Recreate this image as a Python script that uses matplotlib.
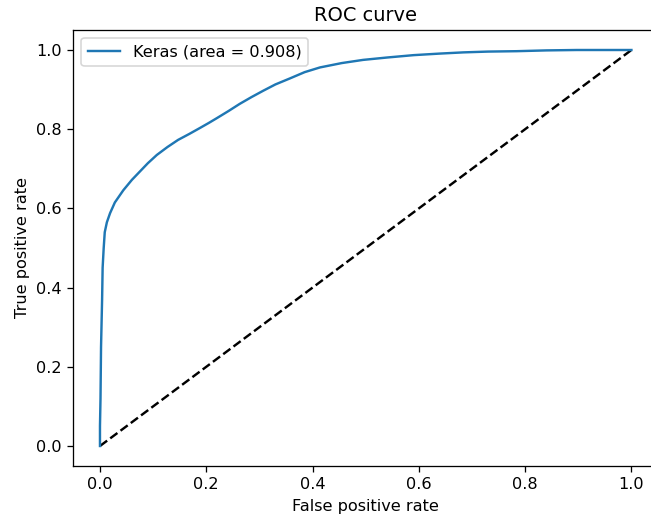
import matplotlib
matplotlib.use("Agg")
import matplotlib.pyplot as plt

fpr = [0.0, 0.0, 0.001, 0.002, 0.004, 0.005, 0.007, 0.009, 0.013, 0.019, 0.028, 0.044,
       0.06, 0.075, 0.09, 0.107, 0.127, 0.147, 0.168, 0.188, 0.205, 0.22, 0.242,
       0.263, 0.285, 0.307, 0.33, 0.357, 0.385, 0.414, 0.455, 0.495, 0.54, 0.59,
       0.64, 0.684, 0.73, 0.784, 0.84, 0.897, 0.95, 1.0]
tpr = [0.0, 0.05, 0.12, 0.25, 0.37, 0.45, 0.5, 0.54, 0.565, 0.588, 0.615, 0.646,
       0.672, 0.693, 0.714, 0.735, 0.755, 0.773, 0.788, 0.803, 0.816, 0.828, 0.846,
       0.864, 0.881, 0.897, 0.913, 0.928, 0.944, 0.956, 0.967, 0.975, 0.981, 0.987,
       0.991, 0.994, 0.996, 0.997, 0.999, 1.0, 1.0, 1.0]
auc_value = 0.908
diag_x = [0, 1]
diag_y = [0, 1]

DPI = 116
fig = plt.figure(figsize=(651 / DPI, 521 / DPI), dpi=DPI)
ax = fig.add_axes([73.4 / 651, (521 - 465.8) / 521, (658 - 73.4) / 651, (465.8 - 30.2) / 521])
ax.plot(diag_x, diag_y, 'k--')
ax.plot(fpr, tpr, label='Keras (area = {:.3f})'.format(auc_value))
ax.set_xlabel('False positive rate')
ax.set_ylabel('True positive rate')
ax.set_title('ROC curve')
ax.legend(loc='best')
fig.savefig('out.png', dpi=DPI)
